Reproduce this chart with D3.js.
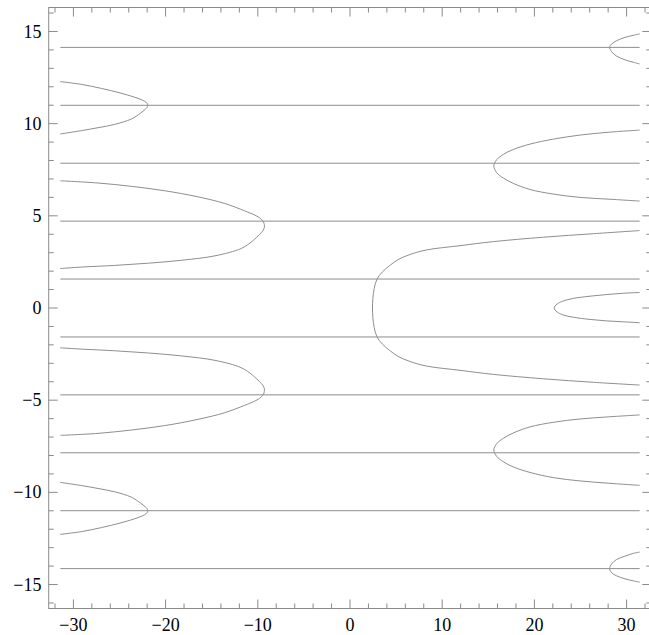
<!DOCTYPE html>
<html>
<head>
<meta charset="utf-8">
<script src="https://cdn.jsdelivr.net/npm/d3@7"></script>
<style>
  body { margin: 0; background: #fff; }
  svg { display: block; }
  .lbl { font-family: "Liberation Serif", "Times New Roman", Times, serif; font-size: 18px; fill: #000; }
</style>
</head>
<body>
<script>
// contour data

const lineYs = [-14.137, -10.996, -7.854, -4.712, -1.571, 1.571, 4.712, 7.854, 10.996, 14.137];
const lineX = [-31.42, 31.42];

// left side, opening to the left
const curveA = [[-31.42,12.28],[-29.14,12.13],[-26.95,11.91],[-25.05,11.68],[-23.4,11.44],[-22.3,11.22],[-22.0,11.1],[-21.95,10.996],
  [-22.0,10.89],[-22.2,10.78],[-22.75,10.56],[-23.72,10.25],[-25.52,9.96],[-27.33,9.78],[-29.14,9.62],[-31.42,9.44]];
const curveB = [[-31.42,6.9],[-27.33,6.78],[-23.72,6.6],[-20.1,6.36],[-16.49,6.03],[-13.59,5.67],[-11.43,5.27],[-10.38,5.05],[-9.83,4.9],[-9.46,4.72],[-9.33,4.6],[-9.28,4.45],
  [-9.33,4.3],[-9.6,4.09],[-10.1,3.85],[-10.6,3.62],[-11.79,3.23],[-14.64,2.83],[-18.25,2.59],[-21.87,2.43],[-25.52,2.31],[-29.14,2.22],[-31.42,2.14]];
const curveC = [[-31.42,-2.16],[-29.14,-2.23],[-25.52,-2.32],[-21.87,-2.44],[-18.25,-2.6],[-14.64,-2.84],[-11.79,-3.24],[-10.6,-3.63],[-10.1,-3.86],[-9.6,-4.1],[-9.33,-4.31],[-9.28,-4.46],
  [-9.33,-4.61],[-9.46,-4.73],[-9.83,-4.91],[-10.38,-5.06],[-11.43,-5.28],[-13.59,-5.68],[-16.49,-6.04],[-20.1,-6.38],[-23.72,-6.62],[-27.33,-6.8],[-31.42,-6.91]];
const curveD = [[-31.42,-9.46],[-29.14,-9.63],[-27.33,-9.79],[-25.52,-9.97],[-23.72,-10.26],[-22.75,-10.57],[-22.2,-10.79],[-22.0,-10.89],[-21.95,-10.996],
  [-22.0,-11.1],[-22.3,-11.22],[-23.4,-11.44],[-25.05,-11.68],[-26.95,-11.91],[-29.14,-12.13],[-31.42,-12.28]];

// right side, opening to the right
const curveE = [[31.42,14.87],[30.73,14.79],[29.83,14.68],[28.92,14.5],[28.38,14.32],[28.16,14.14],
  [28.38,13.9],[28.92,13.66],[29.83,13.46],[30.73,13.33],[31.42,13.24]];
const curveF = [[31.42,9.65],[28.2,9.54],[24.94,9.38],[22.05,9.16],[19.52,8.89],[17.71,8.6],[16.63,8.33],[15.91,8.04],[15.6,7.7],
  [15.91,7.34],[16.63,7.05],[17.71,6.76],[19.52,6.43],[22.05,6.18],[24.94,6.0],[28.2,5.9],[31.42,5.8]];
const curveG = [[31.42,4.2],[26.39,4.03],[20.97,3.84],[15.55,3.6],[11.93,3.38],[8.31,3.15],[6.5,2.9],[5.2,2.62],[4.3,2.3],[3.5,1.95],[2.92,1.56],[2.62,1.05],[2.48,0.52],[2.44,0],
  [2.48,-0.52],[2.62,-1.05],[2.92,-1.56],[3.5,-1.95],[4.3,-2.3],[5.2,-2.62],[6.5,-2.9],[8.31,-3.15],[11.93,-3.38],[15.55,-3.6],[20.97,-3.84],[26.39,-4.03],[31.42,-4.18]];
const curveH = [[31.42,0.84],[29.64,0.8],[27.83,0.73],[26.03,0.64],[24.22,0.52],[23.13,0.38],[22.45,0.21],[22.15,0],
  [22.45,-0.21],[23.13,-0.38],[24.22,-0.5],[26.03,-0.62],[27.83,-0.7],[29.64,-0.75],[31.42,-0.8]];
const curveI = [[31.42,-5.8],[28.2,-5.9],[24.94,-6.02],[22.05,-6.2],[19.52,-6.45],[17.71,-6.78],[16.63,-7.07],[15.91,-7.36],[15.6,-7.7],
  [15.91,-8.05],[16.63,-8.34],[17.71,-8.62],[19.52,-8.92],[22.05,-9.2],[24.94,-9.38],[28.2,-9.51],[31.42,-9.62]];
const curveJ = [[31.42,-13.24],[30.73,-13.31],[29.83,-13.46],[28.92,-13.64],[28.38,-13.88],[28.16,-14.14],
  [28.38,-14.36],[28.92,-14.53],[29.83,-14.69],[30.73,-14.8],[31.42,-14.87]];

const curves = [curveA, curveB, curveC, curveD, curveE, curveF, curveG, curveH, curveI, curveJ];

const xMajor = [-30, -20, -10, 0, 10, 20, 30];
const yMajor = [-15, -10, -5, 0, 5, 10, 15];
const xMinor = d3.range(-32, 33, 2);
const yMinor = d3.range(-16, 17, 1);

// **** layout *****************
const width = 649, height = 635;
const frame = {left: 48.7, right: 651.3, top: 7.5, bottom: 608.5};

const x = d3.scaleLinear().domain([-32.68, 32.68]).range([frame.left, frame.right]);
const y = d3.scaleLinear().domain([-16.3, 16.3]).range([frame.bottom, frame.top]);

const svg = d3.select("body").append("svg")
  .attr("width", width)
  .attr("height", height);

const plot = svg.append("g")
  .attr("fill", "none")
  .attr("stroke", "#8e8e8e")
  .attr("stroke-width", 1);

// horizontal contour lines
plot.selectAll("line.h")
  .data(lineYs)
  .join("line")
  .attr("class", "h")
  .attr("x1", x(lineX[0]))
  .attr("x2", x(lineX[1]))
  .attr("y1", d => y(d))
  .attr("y2", d => y(d));

const line = d3.line()
  .x(d => x(d[0]))
  .y(d => y(d[1]))
  .curve(d3.curveCatmullRom.alpha(0.5));

plot.selectAll("path.c")
  .data(curves)
  .join("path")
  .attr("class", "c")
  .attr("d", line);

// **** frame & ticks *****************
const axisCol = "#8a8a8a";
const fr = svg.append("g").attr("stroke", axisCol).attr("stroke-width", 1).attr("fill", "none");
fr.append("rect")
  .attr("x", frame.left).attr("y", frame.top)
  .attr("width", frame.right - frame.left)
  .attr("height", frame.bottom - frame.top);

const majLen = 9, minLen = 5;
function tickLen(v, majors) { return majors.includes(v) ? majLen : minLen; }

// bottom and top
fr.selectAll("line.xb").data(xMinor)
  .join("line").attr("class", "xb")
  .attr("x1", d => x(d)).attr("x2", d => x(d))
  .attr("y1", frame.bottom).attr("y2", d => frame.bottom - tickLen(d, xMajor));
fr.selectAll("line.xt").data(xMinor)
  .join("line").attr("class", "xt")
  .attr("x1", d => x(d)).attr("x2", d => x(d))
  .attr("y1", frame.top).attr("y2", d => frame.top + tickLen(d, xMajor));
// left and right
fr.selectAll("line.yl").data(yMinor)
  .join("line").attr("class", "yl")
  .attr("y1", d => y(d)).attr("y2", d => y(d))
  .attr("x1", frame.left).attr("x2", d => frame.left + tickLen(d, yMajor));
fr.selectAll("line.yr").data(yMinor)
  .join("line").attr("class", "yr")
  .attr("y1", d => y(d)).attr("y2", d => y(d))
  .attr("x1", frame.right).attr("x2", d => frame.right - tickLen(d, yMajor));

const fmt = v => (v < 0 ? "\u2212" + Math.abs(v) : "" + v);

const labels = svg.append("g");

labels.selectAll("text.xl").data(xMajor)
  .join("text").attr("class", "lbl xl")
  .attr("x", d => x(d))
  .attr("y", 630.5)
  .attr("text-anchor", "middle")
  .text(fmt);

labels.selectAll("text.yl").data(yMajor)
  .join("text").attr("class", "lbl yl")
  .attr("x", 41.5)
  .attr("y", d => y(d))
  .attr("dy", "0.34em")
  .attr("text-anchor", "end")
  .text(fmt);
</script>
</body>
</html>
